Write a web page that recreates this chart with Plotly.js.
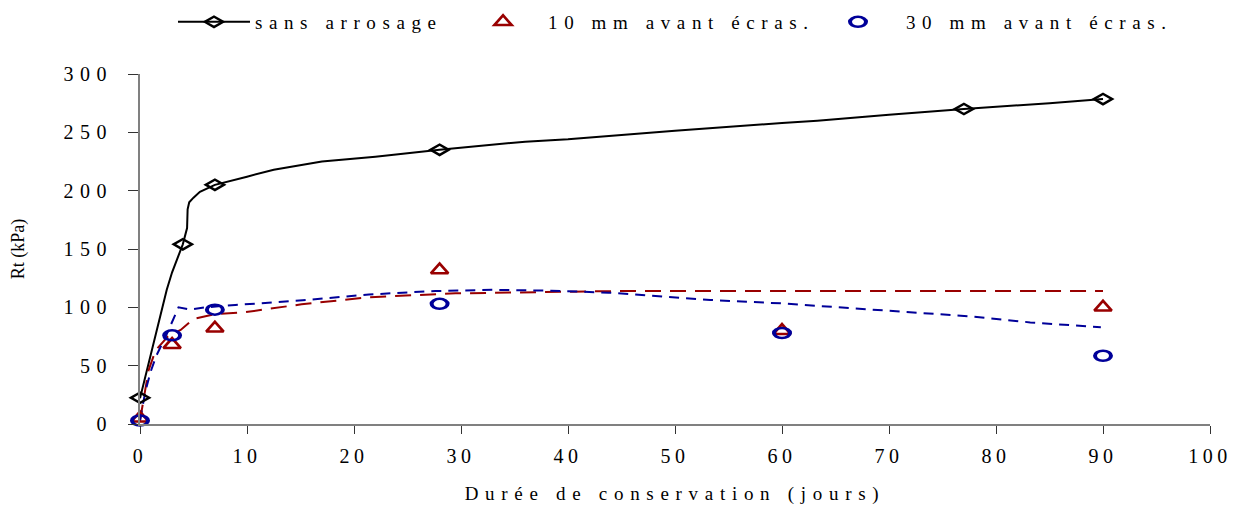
<!DOCTYPE html>
<html>
<head>
<meta charset="utf-8">
<script src="https://cdn.plot.ly/plotly-3.0.1.min.js"></script>
<style>
  html, body { margin: 0; padding: 0; background: #fff; }
  #chart { width: 1241px; height: 509px; }
  /* wide letter spacing of the labels */
  .xtick text { letter-spacing: 4.5px; }
  .ytick text { letter-spacing: 6.5px; }
  .legendtext, .legend2text, .legend3text { letter-spacing: 6.6px; }
  .xtitle { letter-spacing: 6.7px; }
</style>
</head>
<body>
<div id="chart"></div>
<script>
// Résistance à la traction Rt (kPa) selon la durée de conservation (jours)

// Mesures
const joursSans = [0, 4, 7, 28, 77, 90];
const rtSans = [22.5, 154, 205, 235, 270, 278.5];

const joursArrose = [0, 3, 7, 28, 60, 90];
const rt10mm = [5, 68, 82, 132, 80, 100];
const rt30mm = [3, 76, 98, 103, 78, 58.5];

// Courbes d'ajustement
const courbeSansX = [0, 1, 2, 2.5, 3, 4, 4.4, 4.45, 4.6, 5.0, 5.6, 7, 10, 12.5, 17, 22, 28, 36, 40, 48.6, 50, 60, 63.3, 70, 77, 85, 90];
const courbeSansY = [22, 60, 97, 115, 130, 154, 168, 184, 190, 194, 199, 205, 212, 218, 225, 229, 235, 242, 244, 250.6, 251.4, 258, 260, 265, 270, 275, 278.6];

const courbe10X = [0, 0.3, 0.8, 1.45, 2.6, 3.8, 5, 6.9, 9.7, 15.1, 21.3, 29.5, 38.9, 45, 90];
const courbe10Y = [3, 20, 46, 63, 75, 80.6, 90, 94, 95.7, 102.6, 108.6, 112, 113, 114, 114];

const courbe30X = [0, 0.5, 1, 1.5, 2.4, 3, 3.6, 4.7, 6.1, 8.9, 15.2, 21.4, 27.6, 33, 38.4, 43.8, 48, 53.3, 59.9, 65.6, 72.6, 77.9, 83.2, 89.8];
const courbe30Y = [3, 28, 45, 58, 75, 88, 100, 98, 100, 102, 106, 111, 114, 115, 114.3, 112.6, 109.7, 106.3, 103.4, 100, 95.4, 92, 87.1, 82.9];

// Libellés
const nomsSeries = ['sans arrosage', '10 mm avant écras.', '30 mm avant écras.'];
const titreX = 'Durée de conservation (jours)';
const titreY = 'Rt (kPa)';

const NOIR = '#000000';
const ROUGE = '#990000';
const BLEU = '#000099';
const FONT = '"Liberation Serif", "Times New Roman", serif';

const traces = [
  { x: courbeSansX, y: courbeSansY, mode: 'lines', line: { color: NOIR, width: 2 },
    showlegend: false, hoverinfo: 'skip' },
  { x: courbe10X, y: courbe10Y, mode: 'lines', line: { color: ROUGE, width: 2, dash: '16px,9px' },
    showlegend: false, hoverinfo: 'skip' },
  { x: courbe30X, y: courbe30Y, mode: 'lines', line: { color: BLEU, width: 2, dash: '10px,7px' },
    showlegend: false, hoverinfo: 'skip' },
  { x: joursSans, y: rtSans, mode: 'markers', showlegend: false, cliponaxis: false, meta: 1.75,
    marker: { symbol: 'diamond-open', size: 8, color: NOIR, line: { color: NOIR, width: 2 } } },
  // legend entry: line with a diamond
  { x: [null], y: [null], mode: 'lines+markers', name: nomsSeries[0], legend: 'legend', meta: 1.75,
    line: { color: NOIR, width: 2 },
    marker: { symbol: 'diamond-open', size: 8, color: NOIR, line: { color: NOIR, width: 2 } } },
  { x: joursArrose, y: rt10mm, mode: 'markers', name: nomsSeries[1], legend: 'legend2', cliponaxis: false, meta: 1.15,
    marker: { symbol: 'triangle-up-open', size: 13, color: ROUGE, line: { color: ROUGE, width: 2.5 } } },
  { x: joursArrose, y: rt30mm, mode: 'markers', name: nomsSeries[2], legend: 'legend3', cliponaxis: false, meta: 1.6,
    marker: { symbol: 'circle-open', size: 10, color: BLEU, line: { color: BLEU, width: 2.5 } } }
];

// one legend per entry, laid out along the top
function legende(x, largeurSymbole) {
  return {
    orientation: 'h', xref: 'container', yref: 'container',
    x: x, y: 0.9568, xanchor: 'left', yanchor: 'middle',
    bgcolor: 'rgba(0,0,0,0)', borderwidth: 0, itemwidth: largeurSymbole,
    font: { family: FONT, size: 19, color: '#000' }
  };
}

const layout = {
  width: 1241, height: 509,
  margin: { l: 140, r: 31, t: 74, b: 85 },
  paper_bgcolor: '#fff', plot_bgcolor: '#fff',
  font: { family: FONT, size: 20, color: '#000' },
  showlegend: true,
  legend: legende(0.1394, 72),
  legend2: legende(0.3691, 80),
  legend3: legende(0.6527, 86),
  xaxis: {
    range: [0, 100], dtick: 10, tick0: 0,
    showgrid: false, zeroline: false, showline: true,
    linecolor: '#808080', linewidth: 2,
    ticks: 'outside', ticklen: 8, tickwidth: 1, tickcolor: '#333',
    ticklabelstandoff: 5,
    tickfont: { family: FONT, size: 20, color: '#000' },
    title: { text: titreX, font: { family: FONT, size: 19, color: '#000' }, standoff: 21 }
  },
  yaxis: {
    range: [0, 300], dtick: 50, tick0: 0,
    showgrid: false, zeroline: false, showline: true,
    linecolor: '#808080', linewidth: 2,
    ticks: 'outside', ticklen: 10, tickwidth: 1, tickcolor: '#333',
    ticklabelstandoff: 11,
    tickfont: { family: FONT, size: 20, color: '#000' },
    title: { text: titreY, font: { family: FONT, size: 18, color: '#000' }, standoff: 34 }
  }
};

// find the trace a drawn element belongs to
function traceOf(el) {
  while (el && el !== document) {
    const d = el.__data__;
    if (d) {
      if (d.trace) return d.trace;
      if (Array.isArray(d) && d[0]) {
        if (d[0].trace) return d[0].trace;
        if (Array.isArray(d[0]) && d[0][0] && d[0][0].trace) return d[0][0].trace;
      }
    }
    el = el.parentNode;
  }
  return null;
}

// the markers are drawn wider than tall
function etirerMarqueurs() {
  document.querySelectorAll('path.point, path.scatterpts').forEach(function (p) {
    const t = traceOf(p);
    const sx = t && typeof t.meta === 'number' ? t.meta : 1;
    const tr = p.getAttribute('transform') || '';
    if (sx !== 1 && tr.indexOf('scale') < 0) p.setAttribute('transform', tr + ' scale(' + sx + ',1)');
  });
}

Plotly.newPlot('chart', traces, layout, { displayModeBar: false, staticPlot: true }).then(etirerMarqueurs);
</script>
</body>
</html>
